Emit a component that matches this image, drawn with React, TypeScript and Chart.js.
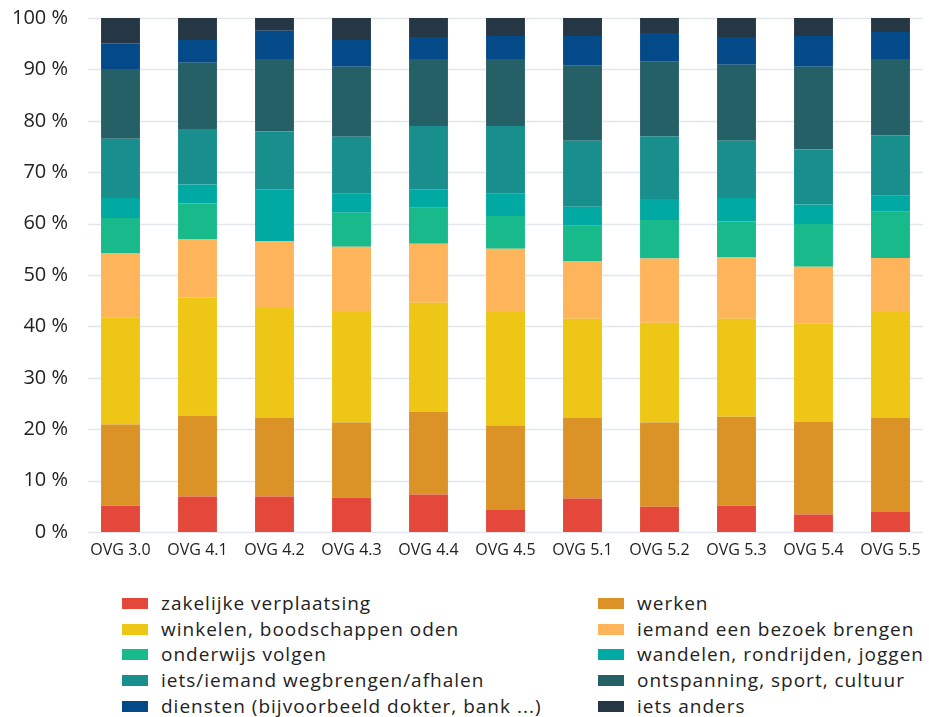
import React, { useEffect, useRef } from "react";
import { Chart, registerables } from "chart.js";

Chart.register(...registerables);

const categories = ["OVG 3.0", "OVG 4.1", "OVG 4.2", "OVG 4.3", "OVG 4.4", "OVG 4.5", "OVG 5.1", "OVG 5.2", "OVG 5.3", "OVG 5.4", "OVG 5.5"];

const zakelijke = [5.1, 6.9, 6.9, 6.7, 7.3, 4.3, 6.5, 4.9, 5.1, 3.4, 3.9];
const werken = [15.8, 15.7, 15.3, 14.6, 16.1, 16.4, 15.7, 16.4, 17.3, 18.0, 18.3];
const winkelen = [20.9, 23.0, 21.4, 21.7, 21.2, 22.3, 19.3, 19.4, 19.1, 19.1, 20.8];
const bezoek = [12.4, 11.4, 13.0, 12.5, 11.5, 12.1, 11.2, 12.5, 12.0, 11.1, 10.3];
const onderwijs = [6.9, 6.9, 0, 6.6, 7.0, 6.4, 6.9, 7.5, 6.9, 8.3, 9.0];
const wandelen = [3.9, 3.7, 10.1, 3.7, 3.6, 4.3, 3.7, 4.1, 4.6, 3.8, 3.1];
const wegbrengen = [11.5, 10.8, 11.2, 11.1, 12.3, 13.2, 12.8, 12.2, 11.1, 10.7, 11.8];
const ontspanning = [13.6, 12.9, 14.1, 13.6, 13.0, 13.0, 14.6, 14.5, 14.8, 16.1, 14.8];
const diensten = [5.0, 4.4, 5.5, 5.2, 4.3, 4.5, 5.8, 5.6, 5.4, 6.0, 5.3];
const anders = [4.9, 4.3, 2.5, 4.3, 3.7, 3.5, 3.5, 2.9, 3.7, 3.5, 2.7];

const seriesLabels = [
  "zakelijke verplaatsing",
  "werken",
  "winkelen, boodschappen oden",
  "iemand een bezoek brengen",
  "onderwijs volgen",
  "wandelen, rondrijden, joggen",
  "iets/iemand wegbrengen/afhalen",
  "ontspanning, sport, cultuur",
  "diensten (bijvoorbeeld dokter, bank ...)",
  "iets anders",
];
const seriesValues = [zakelijke, werken, winkelen, bezoek, onderwijs, wandelen, wegbrengen, ontspanning, diensten, anders];
const seriesColors = ["#e3483a", "#db9226", "#edc616", "#feb45a", "#18ba8c", "#00a9a1", "#188f8d", "#266067", "#044a89", "#253645"];

const yTicks = [0, 10, 20, 30, 40, 50, 60, 70, 80, 90, 100];

const FONT = "'Open Sans', 'Noto Sans', sans-serif";
const TEXT = "#222222";

const gridPlugin = {
  id: "customGrid",
  beforeDatasetsDraw(chart: any) {
    const ctx = chart.ctx;
    const y = chart.scales.y;
    ctx.save();
    ctx.strokeStyle = "#e2e7ed";
    ctx.lineWidth = 1.5;
    for (const t of y.ticks) {
      const py = Math.round(y.getPixelForValue(t.value)) + 0.5;
      ctx.beginPath();
      ctx.moveTo(88, py);
      ctx.lineTo(923, py);
      ctx.stroke();
    }
    ctx.restore();
  },
};

function ChartView() {
  const ref = useRef<HTMLCanvasElement | null>(null);
  useEffect(() => {
    if (!ref.current) return;
    const chart = new Chart(ref.current, {
      type: "bar",
      data: {
        labels: categories,
        datasets: seriesLabels.map((label, i) => ({
          label,
          data: seriesValues[i],
          backgroundColor: seriesColors[i],
          borderWidth: 0,
          categoryPercentage: 1,
          barPercentage: 0.505,
        })),
      },
      options: {
        animation: false,
        responsive: false,
        maintainAspectRatio: false,
        layout: { padding: { top: 18, right: 0, left: 0, bottom: 0 } },
        plugins: { legend: { display: false }, tooltip: { enabled: false } },
        scales: {
          x: {
            stacked: true,
            grid: { display: false, drawTicks: false },
            border: { display: false },
            ticks: { color: TEXT, font: { family: FONT, size: 16 }, padding: 9, maxRotation: 0 },
            afterFit: (s: any) => { s.height = 30; s.paddingLeft = 0; s.paddingRight = 0; },
          },
          y: {
            stacked: true,
            min: 0,
            max: 100,
            afterBuildTicks: (s: any) => { s.ticks = yTicks.map((v) => ({ value: v })); },
            grid: { display: false, drawTicks: false },
            border: { display: false },
            ticks: {
              color: TEXT,
              font: { family: FONT, size: 20 },
              padding: 14,
              callback: (v: any) => v + " %",
            },
            afterFit: (s: any) => { s.width = 82; s.paddingTop = 0; s.paddingBottom = 0; },
          },
        },
      },
      plugins: [gridPlugin],
    });
    return () => chart.destroy();
  }, []);
  return (
    <canvas
      ref={ref}
      width={929}
      height={562}
      style={{ position: "absolute", left: 0, top: 0, width: 929, height: 562 }}
    />
  );
}

function Legend() {
  const colX = [122, 598];
  const rowY = [603, 629, 654, 680, 706];
  return (
    <>
      {seriesLabels.map((label, i) => {
        const col = i % 2;
        const row = Math.floor(i / 2);
        return (
          <div
            key={label}
            style={{
              position: "absolute",
              left: colX[col],
              top: rowY[row] - 13,
              height: 26,
              display: "flex",
              alignItems: "center",
              whiteSpace: "nowrap",
              fontFamily: FONT,
              fontSize: 19,
              letterSpacing: "1px",
              color: TEXT,
            }}
          >
            <span style={{ display: "inline-block", width: 26, height: 11, background: seriesColors[i], marginRight: 13 }} />
            <span>{label}</span>
          </div>
        );
      })}
    </>
  );
}

export default function App() {
  return (
    <div style={{ position: "absolute", left: 0, top: 0, width: 929, height: 717, background: "#ffffff", overflow: "hidden" }}>
      <ChartView />
      <Legend />
    </div>
  );
}
